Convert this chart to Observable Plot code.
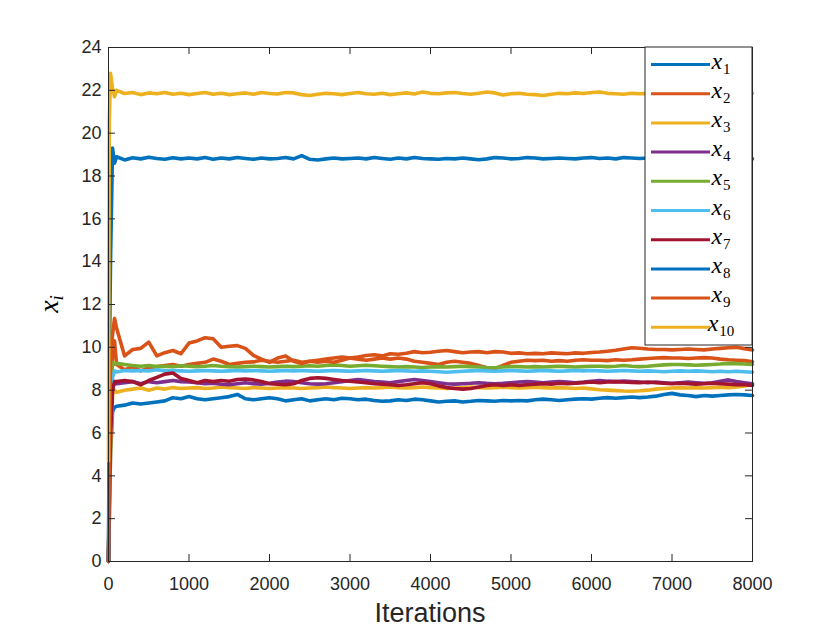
<!DOCTYPE html>
<html>
<head>
<meta charset="utf-8">
<script src="https://cdn.jsdelivr.net/npm/d3@7"></script>
<script src="https://cdn.jsdelivr.net/npm/@observablehq/plot@0.6"></script>
<style>
  body { margin: 0; background: #fff; }
  #chart svg { display: block; }
</style>
</head>
<body>
<div id="chart"></div>
<script>
// ---------- data ----------
const iterEarly = [0, 10, 25, 50, 75];
const iterations = iterEarly.concat(d3.range(100, 8001, 100));

const seriesNames = ["x1", "x2", "x3", "x4", "x5", "x6", "x7", "x8", "x9", "x10"];
const subscripts = ["1", "2", "3", "4", "5", "6", "7", "8", "9", "10"];
const colors = ["#0072BD", "#D95319", "#EDB120", "#7E2F8E", "#77AC30",
                "#4DBEEE", "#A2142F", "#0072BD", "#D95319", "#EDB120"];

const xTicks = [0, 1000, 2000, 3000, 4000, 5000, 6000, 7000, 8000];
const yTicks = [0, 2, 4, 6, 8, 10, 12, 14, 16, 18, 20, 22, 24];

const x1 = [0, 2, 5, 7.0, 7.2,
  7.25, 7.3, 7.4, 7.35, 7.4, 7.45, 7.5, 7.65, 7.6, 7.7,
  7.6, 7.55, 7.6, 7.65, 7.7, 7.8, 7.6, 7.55, 7.6, 7.65,
  7.6, 7.5, 7.55, 7.6, 7.5, 7.55, 7.6, 7.55, 7.62, 7.6,
  7.55, 7.58, 7.52, 7.48, 7.5, 7.55, 7.52, 7.58, 7.55, 7.5,
  7.45, 7.48, 7.5, 7.45, 7.48, 7.52, 7.5, 7.48, 7.52, 7.5,
  7.52, 7.5, 7.55, 7.58, 7.55, 7.52, 7.55, 7.58, 7.6, 7.58,
  7.62, 7.65, 7.62, 7.65, 7.68, 7.65, 7.68, 7.72, 7.8, 7.85,
  7.78, 7.75, 7.7, 7.75, 7.72, 7.75, 7.78, 7.8, 7.78, 7.75];
const x2 = [0, 3, 7, 9.8, 10.3,
  9.2, 8.95, 9.1, 8.9, 9.05, 9.1, 9.15, 9.2, 9.12, 9.2,
  9.25, 9.3, 9.45, 9.35, 9.2, 9.25, 9.3, 9.32, 9.4, 9.35,
  9.3, 9.35, 9.4, 9.3, 9.35, 9.4, 9.45, 9.5, 9.55, 9.5,
  9.45, 9.4, 9.45, 9.5, 9.45, 9.5, 9.45, 9.35, 9.3, 9.25,
  9.2, 9.3, 9.35, 9.3, 9.25, 9.15, 9.05, 9.0, 9.15, 9.3,
  9.35, 9.4, 9.38, 9.4, 9.35, 9.38, 9.35, 9.4, 9.42, 9.4,
  9.4, 9.38, 9.42, 9.4, 9.42, 9.45, 9.48, 9.5, 9.52, 9.5,
  9.5, 9.48, 9.5, 9.52, 9.5, 9.45, 9.42, 9.4, 9.38, 9.32];
const x3 = [0, 2, 5, 7.8, 8.0,
  7.9, 8.0, 8.05, 8.1, 8.0, 8.1, 8.05, 8.12, 8.08, 8.1,
  8.12, 8.08, 8.1, 8.15, 8.12, 8.1, 8.08, 8.12, 8.1, 8.08,
  8.1, 8.12, 8.1, 8.08, 8.1, 8.12, 8.15, 8.12, 8.1, 8.08,
  8.1, 8.12, 8.1, 8.12, 8.15, 8.12, 8.1, 8.12, 8.15, 8.12,
  8.1, 8.08, 8.1, 8.12, 8.15, 8.12, 8.1, 8.12, 8.14, 8.12,
  8.1, 8.12, 8.14, 8.12, 8.1, 8.12, 8.1, 8.08, 8.1, 8.06,
  8.02, 8.0, 7.98, 7.96, 7.95, 7.97, 8.0, 8.05, 8.08, 8.1,
  8.12, 8.1, 8.12, 8.1, 8.12, 8.14, 8.12, 8.15, 8.2, 8.25];
const x4 = [0, 3, 6, 8.2, 8.3,
  8.3, 8.35, 8.4, 8.3, 8.4, 8.35, 8.4, 8.45, 8.4, 8.38,
  8.35, 8.3, 8.32, 8.28, 8.25, 8.3, 8.35, 8.3, 8.28, 8.32,
  8.38, 8.42, 8.4, 8.35, 8.3, 8.28, 8.3, 8.35, 8.4, 8.45,
  8.5, 8.45, 8.4, 8.38, 8.35, 8.4, 8.45, 8.5, 8.45, 8.4,
  8.35, 8.3, 8.28, 8.3, 8.32, 8.35, 8.32, 8.3, 8.32, 8.35,
  8.38, 8.4, 8.38, 8.35, 8.38, 8.4, 8.38, 8.35, 8.38, 8.42,
  8.45, 8.42, 8.4, 8.42, 8.4, 8.38, 8.35, 8.38, 8.35, 8.32,
  8.35, 8.38, 8.35, 8.32, 8.35, 8.42, 8.48, 8.4, 8.35, 8.3];
const x5 = [0, 4, 8, 9.3, 9.2,
  9.25, 9.2, 9.15, 9.12, 9.15, 9.1, 9.12, 9.1, 9.14, 9.12,
  9.1, 9.12, 9.15, 9.12, 9.1, 9.08, 9.1, 9.12, 9.1, 9.08,
  9.1, 9.12, 9.1, 9.12, 9.14, 9.12, 9.15, 9.18, 9.15, 9.12,
  9.14, 9.16, 9.14, 9.12, 9.1, 9.08, 9.1, 9.08, 9.06, 9.08,
  9.1, 9.08, 9.1, 9.12, 9.1, 9.08, 9.06, 9.05, 9.08, 9.1,
  9.1, 9.08, 9.1, 9.08, 9.1, 9.12, 9.1, 9.08, 9.1, 9.12,
  9.12, 9.1, 9.12, 9.15, 9.12, 9.1, 9.12, 9.15, 9.18, 9.2,
  9.2, 9.18, 9.16, 9.18, 9.2, 9.22, 9.25, 9.24, 9.22, 9.2];
const x6 = [0, 3, 7, 8.6, 8.9,
  8.85, 8.92, 8.9, 8.92, 8.9, 8.95, 8.9, 8.92, 8.9, 8.88,
  8.9, 8.92, 8.9, 8.88, 8.9, 8.92, 8.9, 8.92, 8.9, 8.88,
  8.9, 8.92, 8.9, 8.92, 8.9, 8.88, 8.9, 8.92, 8.9, 8.88,
  8.9, 8.92, 8.9, 8.88, 8.9, 8.92, 8.9, 8.88, 8.9, 8.88,
  8.86, 8.84, 8.86, 8.88, 8.9, 8.92, 8.9, 8.88, 8.9, 8.92,
  8.9, 8.88, 8.9, 8.92, 8.9, 8.88, 8.9, 8.92, 8.9, 8.92,
  8.9, 8.88, 8.9, 8.92, 8.9, 8.88, 8.9, 8.88, 8.86, 8.88,
  8.9, 8.88, 8.9, 8.88, 8.86, 8.88, 8.86, 8.88, 8.86, 8.84];
const x7 = [0, 3, 6, 8.0, 8.4,
  8.4, 8.45, 8.4, 8.25, 8.45, 8.6, 8.75, 8.8, 8.55, 8.45,
  8.35, 8.45, 8.4, 8.45, 8.42, 8.5, 8.52, 8.48, 8.4, 8.3,
  8.28, 8.25, 8.3, 8.45, 8.55, 8.58, 8.55, 8.5, 8.45, 8.42,
  8.38, 8.35, 8.3, 8.28, 8.25, 8.22, 8.25, 8.3, 8.35, 8.3,
  8.2, 8.12, 8.08, 8.05, 8.08, 8.15, 8.22, 8.25, 8.22, 8.25,
  8.22, 8.25, 8.28, 8.3, 8.28, 8.32, 8.3, 8.32, 8.35, 8.38,
  8.35, 8.38, 8.4, 8.38, 8.36, 8.35, 8.38, 8.35, 8.32, 8.3,
  8.32, 8.3, 8.28, 8.3, 8.32, 8.3, 8.28, 8.26, 8.25, 8.22];
const x8 = [0, 9, 14, 19.3, 18.6,
  18.9, 18.75, 18.85, 18.8, 18.88, 18.82, 18.78, 18.85, 18.8, 18.84,
  18.8, 18.86, 18.78, 18.84, 18.8, 18.86, 18.82, 18.78, 18.84, 18.8,
  18.82, 18.86, 18.8, 18.95, 18.78, 18.75, 18.8, 18.84, 18.8, 18.82,
  18.84, 18.8, 18.86, 18.82, 18.78, 18.84, 18.8, 18.86, 18.82, 18.8,
  18.78, 18.82, 18.8, 18.84, 18.8, 18.76, 18.8, 18.86, 18.84, 18.8,
  18.82, 18.86, 18.84, 18.8, 18.82, 18.84, 18.82, 18.8, 18.84, 18.86,
  18.82, 18.84, 18.8, 18.86, 18.84, 18.82, 18.84, 18.86, 18.82, 18.84,
  18.8, 18.84, 18.86, 18.82, 18.8, 18.84, 18.86, 18.82, 18.84, 18.8];
const x9 = [0, 5, 9.5, 10.6, 11.35,
  10.9, 9.6, 9.9, 9.95, 10.24, 9.6, 9.75, 9.85, 9.7, 10.2,
  10.3, 10.45, 10.4, 10.0, 10.05, 10.08, 9.95, 9.62, 9.45, 9.3,
  9.5, 9.6, 9.35, 9.25, 9.35, 9.3, 9.35, 9.3, 9.4, 9.5,
  9.55, 9.62, 9.65, 9.6, 9.7, 9.68, 9.72, 9.8, 9.75, 9.77,
  9.82, 9.85, 9.8, 9.75, 9.78, 9.8, 9.75, 9.8, 9.78, 9.72,
  9.74, 9.7, 9.72, 9.7, 9.74, 9.72, 9.7, 9.74, 9.72, 9.76,
  9.78, 9.82, 9.86, 9.92, 9.98, 9.96, 9.92, 9.9, 9.9, 9.88,
  9.9, 9.92, 9.9, 9.88, 9.92, 9.95, 9.98, 10.0, 9.94, 9.88];
const x10 = [4.7, 20.5, 22.8, 22.1, 21.7,
  22.0, 21.85, 21.9, 21.8, 21.88, 21.84, 21.9, 21.82, 21.86, 21.8,
  21.85, 21.9, 21.82, 21.86, 21.8, 21.84, 21.88, 21.82, 21.9, 21.85,
  21.83, 21.9, 21.88, 21.8, 21.76, 21.82, 21.86, 21.84, 21.8, 21.85,
  21.9, 21.84, 21.82, 21.86, 21.8, 21.84, 21.88, 21.83, 21.92, 21.86,
  21.84, 21.88, 21.9, 21.85, 21.82, 21.86, 21.92, 21.88, 21.78, 21.84,
  21.86, 21.82, 21.8, 21.76, 21.82, 21.86, 21.84, 21.88, 21.85, 21.9,
  21.92, 21.86, 21.84, 21.82, 21.86, 21.84, 21.86, 21.84, 21.88, 21.85,
  21.84, 21.86, 21.88, 21.84, 21.86, 21.82, 21.86, 21.88, 21.84, 21.86];

const seriesValues = [x1, x2, x3, x4, x5, x6, x7, x8, x9, x10];

// long table built from the arrays above
const rows = [];
seriesValues.forEach((vals, s) => {
  vals.forEach((v, i) => rows.push({series: seriesNames[s], iter: iterations[i], value: v}));
});

// ---------- layout ----------
const W = 830, H = 631;
const mL = 108, mR = 78, mT = 47, mB = 70;
const innerW = W - mL - mR, innerH = H - mT - mB;
const tickLen = 7;
const ink = "#262626";

const plot = Plot.plot({
  width: W, height: H,
  marginLeft: mL, marginRight: mR, marginTop: mT, marginBottom: mB,
  style: {fontFamily: "'Liberation Sans', Arial, Helvetica, sans-serif", fontSize: "18px", color: ink, background: "#fff"},
  x: {domain: [0, 8000]},
  y: {domain: [0, 24]},
  color: {domain: seriesNames, range: colors},
  marks: [
    Plot.line(rows, {x: "iter", y: "value", z: "series", stroke: "series", strokeWidth: 3.6, strokeLinejoin: "round"}),
    // inward ticks on all four sides (MATLAB box style)
    Plot.tickX(xTicks, {x: d => d, insetTop: innerH - tickLen, stroke: ink}),
    Plot.tickX(xTicks, {x: d => d, insetBottom: innerH - tickLen, stroke: ink}),
    Plot.tickY(yTicks, {y: d => d, insetRight: innerW - tickLen, stroke: ink}),
    Plot.tickY(yTicks, {y: d => d, insetLeft: innerW - tickLen, stroke: ink}),
    Plot.axisX({ticks: xTicks, tickSize: 0, tickPadding: 16, fontSize: 18, label: null, tickFormat: d => String(d)}),
    Plot.axisY({ticks: yTicks, tickSize: 0, tickPadding: 7, fontSize: 18, label: null, tickFormat: d => String(d)}),
    Plot.frame({stroke: ink, strokeWidth: 1})
  ]
});

document.getElementById("chart").appendChild(plot);

// ---------- axis titles & legend ----------
const svg = d3.select(plot);

svg.append("text")
  .attr("x", mL + innerW / 2).attr("y", 622)
  .attr("text-anchor", "middle")
  .attr("font-family", "'Liberation Sans', Arial, sans-serif")
  .attr("font-size", 27).attr("fill", ink)
  .text("Iterations");

const yl = svg.append("text")
  .attr("transform", `translate(58,${mT + innerH / 2}) rotate(-90)`)
  .attr("text-anchor", "middle")
  .attr("font-family", "'Liberation Serif', 'DejaVu Serif', serif")
  .attr("font-style", "italic")
  .attr("font-size", 28).attr("fill", "#000");
yl.append("tspan").text("x");
yl.append("tspan").attr("font-size", 19).attr("dy", 5).text("i");

const lgX = 645, lgY = mT, lgW = W - mR - lgX, lgH = 298;
const lg = svg.append("g");
lg.append("rect")
  .attr("x", lgX).attr("y", lgY).attr("width", lgW).attr("height", lgH)
  .attr("fill", "#fff").attr("stroke", ink).attr("stroke-width", 1);
seriesNames.forEach((name, i) => {
  const cy = 64.5 + i * 29.2;
  lg.append("line")
    .attr("x1", 651).attr("x2", 710).attr("y1", cy).attr("y2", cy)
    .attr("stroke", colors[i]).attr("stroke-width", 3);
  const t = lg.append("text")
    .attr("x", 721).attr("y", cy + 4)
    .attr("font-family", "'Liberation Serif', 'DejaVu Serif', serif")
    .attr("fill", "#000");
  t.append("tspan").attr("font-style", "italic").attr("font-size", 24).text("x");
  t.append("tspan").attr("font-size", 15).attr("dy", 5).attr("dx", 1).text(subscripts[i]);
});
</script>
</body>
</html>
